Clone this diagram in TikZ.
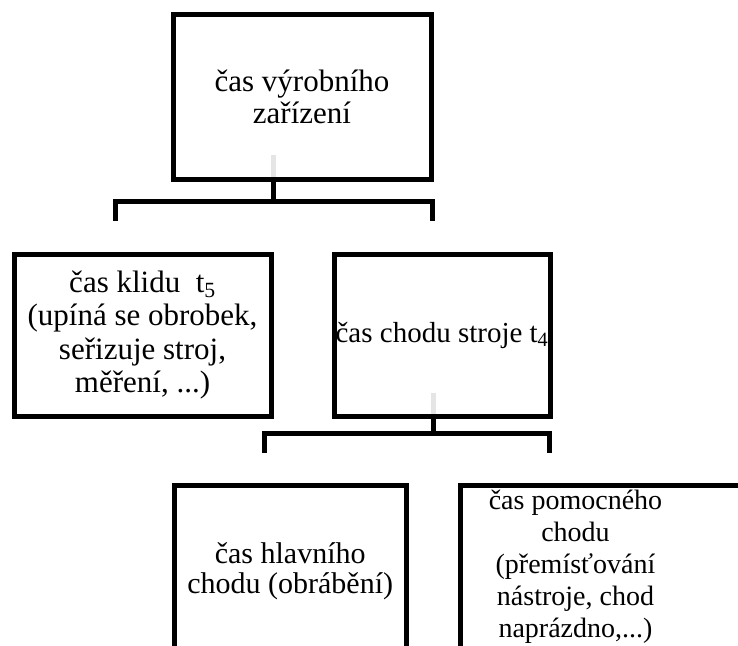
\documentclass[tikz,border=0pt]{standalone}
\usepackage{fontspec}
\setmainfont{Liberation Serif}
\newfontfamily\boxfont{Liberation Serif}
\usetikzlibrary{positioning}

\begin{document}
\begin{tikzpicture}[x=1pt,y=1pt,node distance=1pt,on grid,
		box/.style={draw,line width=5pt,align=center,inner sep=0pt},
		fork/.style={line width=5pt},
		ghost/.style={line width=5pt,draw=black!10,shorten >=5pt}]
	\useasboundingbox (0,0) rectangle (738,-645);
	\node[box,minimum width=258pt,minimum height=164.5pt,font=\boxfont\fontsize{31}{32}\selectfont] (1) at (302,-97) {čas výrobního\\zařízení};
	\node[box,minimum width=257pt,minimum height=162pt,font=\boxfont\fontsize{31}{33.5}\selectfont] (2) [below left=238pt and 159.5pt of 1] {čas klidu~~t\textsubscript{5}\\(upíná se obrobek,\\seřizuje stroj,\\měření, ...)};
	\node[box,minimum width=216pt,minimum height=162pt,font=\boxfont\fontsize{29}{33}\selectfont] (3) [right=299.5pt of 2] {čas chodu stroje t\textsubscript{4}};
	\node[box,minimum width=232.5pt,minimum height=172pt,font=\boxfont\fontsize{30}{30}\selectfont] (4) [below left=236pt and 151.75pt of 3] {čas hlavního\\chodu (obrábění)};
	\node[box,minimum width=300pt,minimum height=172pt,
		label={[font=\boxfont\fontsize{28}{32}\selectfont,align=center,xshift=-34.5pt,yshift=4pt]center:{čas pomocného\\chodu\\(přemísťování\\nástroje, chod\\naprázdno,...)}}] (5) [right=319.75pt of 4] {};
	\coordinate (j1) at (273.5,-201.7);
	\coordinate (l1) at (115,-221);
	\coordinate (r1) at (432,-221);
	\coordinate (g1) at (273.5,-155);
	\coordinate (j2) at (433.5,-433);
	\coordinate (l2) at (264.5,-453);
	\coordinate (r2) at (549.5,-453);
	\coordinate (g2) at (433.5,-393);
	\draw[ghost] (g1) -- (g1 |- 1.south);
	\draw[fork] (1.south -| j1) -- (j1);
	\draw[fork] (l1) |- (j1) -| (r1);
	\draw[ghost] (g2) -- (g2 |- 3.south);
	\draw[fork] (3.south -| j2) -- (j2);
	\draw[fork] (l2) |- (j2) -| (r2);
\end{tikzpicture}
\end{document}
